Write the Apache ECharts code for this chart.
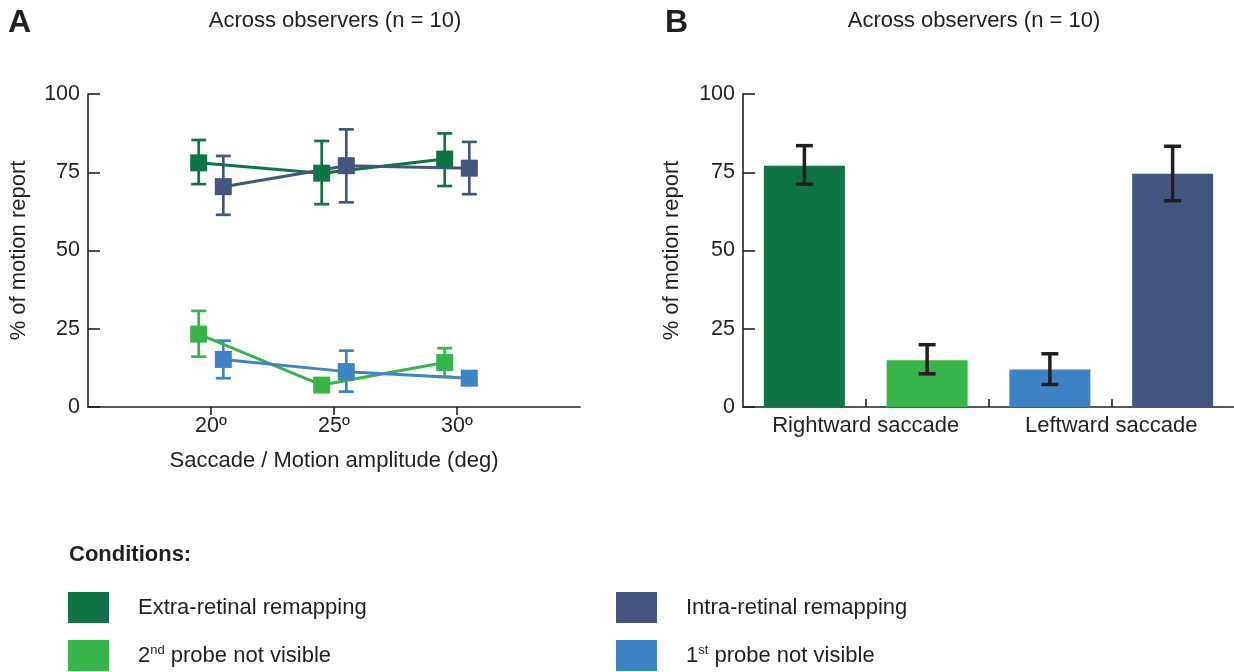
<!DOCTYPE html>
<html><head><meta charset="utf-8">
<script src="https://cdn.jsdelivr.net/npm/echarts@6/dist/echarts.min.js"></script>
<style>html,body{margin:0;padding:0;background:#fff}#c{width:1234px;height:672px}</style>
</head><body><div id="c"></div>
<script>
// ---------- DATA ----------
const amplitudes = [20, 25, 30];
const ampTickLabels = ['20º', '25º', '30º'];
// Panel A (mean, lower and upper error bar ends)
const extraMean = [78.0, 74.7, 79.2];
const extraLow  = [71.2, 64.8, 70.6];
const extraHigh = [85.3, 85.0, 87.4];
const intraMean = [70.4, 77.1, 76.3];
const intraLow  = [61.4, 65.4, 68.0];
const intraHigh = [80.2, 88.7, 84.7];
const probe2Mean = [23.3, 7.0, 14.2];
const probe2Low  = [16.1, 5.6, 9.6];
const probe2High = [30.7, 8.4, 18.8];
const probe1Mean = [15.2, 11.3, 9.2];
const probe1Low  = [9.2, 4.9, 8.0];
const probe1High = [21.2, 18.0, 10.4];
// Panel B (bars in order: extra-retinal, 2nd probe | 1st probe, intra-retinal)
const barGroups = ['Rightward saccade', 'Leftward saccade'];
const barMean = [77.1, 14.9, 12.0, 74.5];
const barLow  = [71.2, 10.6, 7.2, 65.9];
const barHigh = [83.5, 19.9, 17.0, 83.3];
const names = ['Extra-retinal remapping', 'Intra-retinal remapping', '2nd probe not visible', '1st probe not visible'];

// ---------- STYLE ----------
const C = { extra: '#0e7446', intra: '#44557f', p2: '#38b54a', p1: '#3e83c5' };
const barColors = [C.extra, C.p2, C.p1, C.intra];
const ink = '#231f20';
const FONT = 'Liberation Sans, Arial, sans-serif';
const FS = 22;

const chart = echarts.init(document.getElementById('c'), null, { renderer: 'canvas' });

function pts(mean, off) { return amplitudes.map((a, i) => [a + off, mean[i]]); }
function errPts(low, high, off) { return amplitudes.map((a, i) => [a + off, low[i], high[i]]); }
// bar slots on panel B's x scale: slot i occupies [i, i+1]
const barPos = barMean.map((v, i) => i + 0.5);
const groupTicks = [1, 3];
const boundaryTicks = [1, 2, 3];

function errSeries(data, color, capHalf, width, xi, yi) {
  return {
    type: 'custom', xAxisIndex: xi, yAxisIndex: yi, z: 3,
    data: data,
    encode: { x: 0, y: [1, 2] },
    renderItem: function (params, api) {
      const x = api.value(0), lo = api.value(1), hi = api.value(2);
      const a = api.coord([x, hi]), b = api.coord([x, lo]);
      const st = { stroke: color, lineWidth: width };
      return { type: 'group', children: [
        { type: 'line', shape: { x1: a[0], y1: a[1], x2: b[0], y2: b[1] }, style: st },
        { type: 'line', shape: { x1: a[0] - capHalf, y1: a[1], x2: a[0] + capHalf, y2: a[1] }, style: st },
        { type: 'line', shape: { x1: b[0] - capHalf, y1: b[1], x2: b[0] + capHalf, y2: b[1] }, style: st }
      ]};
    }
  };
}
function lineSeries(name, mean, off, color) {
  return {
    name: name, type: 'line', xAxisIndex: 0, yAxisIndex: 0, z: 4,
    data: pts(mean, off), symbol: 'rect', symbolSize: 17,
    itemStyle: { color: color }, lineStyle: { color: color, width: 3 },
    emphasis: { disabled: true }, animation: false
  };
}

const yAxisBase = {
  type: 'value', min: 0, max: 100, interval: 25,
  axisLine: { show: true, lineStyle: { color: ink, width: 1.6 } },
  axisTick: { show: true, inside: true, length: 12, lineStyle: { color: ink, width: 1.6 } },
  axisLabel: { color: ink, fontSize: 21.5, fontFamily: FONT, margin: 8 },
  splitLine: { show: false },
  name: '% of motion report', nameLocation: 'middle', nameGap: 58,
  nameTextStyle: { color: ink, fontSize: FS, fontFamily: FONT }
};

const legendRich = { sup: { fontSize: 13, fontFamily: FONT, color: ink, verticalAlign: 'top', padding: [0, 0, 10, 0] },
                     t: { fontSize: FS, fontFamily: FONT, color: ink } };
function legendAt(name, left, top, label) {
  return {
    left: left, top: top, padding: 0, data: [name], icon: 'rect', itemWidth: 41, itemHeight: 31,
    selectedMode: false,
    textStyle: { color: ink, fontSize: FS, fontFamily: FONT, padding: [0, 0, 0, 24], rich: legendRich },
    formatter: function () { return label; }
  };
}

const option = {
  animation: false,
  textStyle: { fontFamily: FONT },
  grid: [
    { left: 88, right: 654, top: 94, bottom: 265 },
    { left: 743, right: 0, top: 94, bottom: 265 }
  ],
  xAxis: [
    { type: 'value', gridIndex: 0, min: 15, max: 35, interval: 5,
      axisLine: { show: true, onZero: false, lineStyle: { color: ink, width: 1.6 } },
      axisTick: { show: true, inside: false, length: 8, customValues: amplitudes, lineStyle: { color: ink, width: 1.6 } },
      axisLabel: { customValues: amplitudes, color: ink, fontSize: 21.5, fontFamily: FONT, margin: 8,
                   formatter: function (v) { return ampTickLabels[amplitudes.indexOf(v)] || ''; } },
      splitLine: { show: false },
      name: 'Saccade / Motion amplitude (deg)', nameLocation: 'middle', nameGap: 43,
      nameTextStyle: { color: ink, fontSize: FS, fontFamily: FONT } },
    { type: 'value', gridIndex: 1, min: 0, max: 4, interval: 1,
      axisLine: { show: true, onZero: false, lineStyle: { color: ink, width: 1.6 } },
      axisTick: { show: true, inside: true, length: 8, customValues: boundaryTicks, lineStyle: { color: ink, width: 1.6 } },
      axisLabel: { customValues: groupTicks, color: ink, fontSize: FS, fontFamily: FONT, margin: 8,
                   formatter: function (v) { return barGroups[groupTicks.indexOf(v)] || ''; } },
      splitLine: { show: false } }
  ],
  yAxis: [
    Object.assign({}, yAxisBase, { gridIndex: 0 }),
    Object.assign({}, yAxisBase, { gridIndex: 1, nameGap: 60 })
  ],
  legend: [
    legendAt(names[0], 68, 592, '{t|Extra-retinal remapping}'),
    legendAt(names[1], 616, 592, '{t|Intra-retinal remapping}'),
    legendAt(names[2], 68, 640, '{t|2}{sup|nd}{t| probe not visible}'),
    legendAt(names[3], 616, 640, '{t|1}{sup|st}{t| probe not visible}')
  ],
  graphic: [
    { type: 'text', left: 8, top: 7, style: { text: 'A', fontSize: 32, fontWeight: 'bold', fontFamily: FONT, fill: ink } },
    { type: 'text', left: 665, top: 7, style: { text: 'B', fontSize: 32, fontWeight: 'bold', fontFamily: FONT, fill: ink } },
    { type: 'text', x: 335, y: 21, style: { text: 'Across observers (n = 10)', align: 'center', verticalAlign: 'middle', fontSize: FS, fontFamily: FONT, fill: ink } },
    { type: 'text', x: 974, y: 21, style: { text: 'Across observers (n = 10)', align: 'center', verticalAlign: 'middle', fontSize: FS, fontFamily: FONT, fill: ink } },
    { type: 'text', x: 69, y: 555, style: { text: 'Conditions:', align: 'left', verticalAlign: 'middle', fontSize: FS, fontWeight: 'bold', fontFamily: FONT, fill: ink } }
  ],
  series: [
    errSeries(errPts(extraLow, extraHigh, -0.5), C.extra, 7.5, 2.7, 0, 0),
    lineSeries(names[0], extraMean, -0.5, C.extra),
    errSeries(errPts(intraLow, intraHigh, 0.5), C.intra, 7.5, 2.7, 0, 0),
    lineSeries(names[1], intraMean, 0.5, C.intra),
    errSeries(errPts(probe2Low, probe2High, -0.5), C.p2, 7.5, 2.7, 0, 0),
    lineSeries(names[2], probe2Mean, -0.5, C.p2),
    errSeries(errPts(probe1Low, probe1High, 0.5), C.p1, 7.5, 2.7, 0, 0),
    lineSeries(names[3], probe1Mean, 0.5, C.p1),
    { type: 'bar', xAxisIndex: 1, yAxisIndex: 1, barWidth: 81, z: 2,
      data: barMean.map((v, i) => ({ value: [barPos[i], v], itemStyle: { color: barColors[i] } })) },
    errSeries(barMean.map((v, i) => [barPos[i], barLow[i], barHigh[i]]), ink, 8.5, 3.5, 1, 1)
  ]
};
chart.setOption(option);
</script></body></html>
